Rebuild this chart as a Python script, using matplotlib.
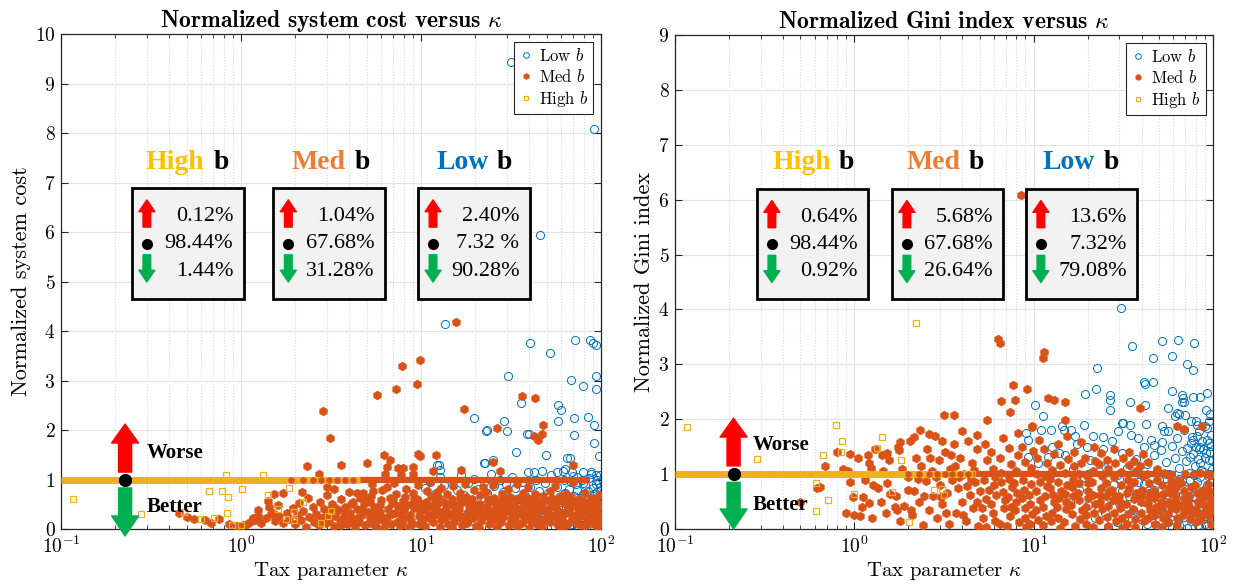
import matplotlib
matplotlib.use('Agg')
import matplotlib.pyplot as plt
from matplotlib.patches import Rectangle
import numpy as np

plt.rcParams['font.family'] = ['cmr10', 'DejaVu Serif']
plt.rcParams['mathtext.fontset'] = 'cm'
plt.rcParams['axes.formatter.use_mathtext'] = True

BLUE = '#0072BD'
ORANGE = '#D95319'
YELLOW = '#EDB120'
BOX_FONT = ['Liberation Serif', 'DejaVu Serif']

# ---------------- data: normalized system cost ----------------
cost_low = [
    (31.7, 9.43), (91, 8.09), (46, 5.95), (13.6, 4.14), (40.6, 3.75), (52, 3.55), (72, 3.81),
    (87, 3.82), (90, 3.75), (94, 3.71), (30.5, 3.10), (94, 3.10), (68, 3.02), (79, 2.89),
    (94, 2.82), (35.9, 2.54), (57.8, 2.5), (60, 2.41), (19.6, 2.25), (29, 2.19), (71, 2.25),
    (85, 2.27), (57.8, 2.18), (23.4, 2.0), (30, 1.98), (40, 1.91), (71, 1.89), (91, 2.11),
    (92, 1.73), (97, 1.47), (33.6, 1.55), (49.8, 1.50), (22.8, 1.34), (25, 1.39), (12.6, 1.30),
    (67.7, 1.44), (12.3, 1.29), (12.8, 1.2), (22.4, 1.33), (39, 1.91), (23, 1.98), (65, 1.43),
    (42.6, 1.15), (47, 1.17), (57, 1.15), (63, 1.21), (69, 1.15), (79, 1.15), (88, 1.15), (94, 1.1),
    (10.5, 0.82), (11.2, 0.95), (12, 0.7), (12.8, 1.05), (13.5, 0.88), (14.2, 0.6), (15, 0.98),
    (15.8, 0.78), (16.6, 1.1), (17.4, 0.68), (18.2, 0.92), (19, 0.55), (19.8, 1.02), (20.7, 0.8),
    (21.6, 0.62), (22.5, 0.96), (23.4, 0.72), (24.4, 1.12), (25.4, 0.86), (26.4, 0.5), (27.5, 0.99),
    (28.6, 0.74), (29.8, 0.9), (31, 0.6), (32.2, 1.06), (33.5, 0.82), (34.8, 0.45), (36.2, 0.96),
    (37.6, 0.7), (39.1, 1.15), (40.6, 0.85), (42.2, 0.55), (43.8, 1.0), (45.5, 0.76), (47.2, 0.4),
    (49, 0.92), (50.9, 0.65), (52.8, 1.1), (54.8, 0.3), (56.9, 0.84), (59, 0.55), (61.2, 1.18),
    (63.5, 0.72), (65.9, 0.2), (68.3, 0.95), (70.8, 0.48), (73.4, 1.05), (76.1, 0.62), (78.9, 0.25),
    (81.8, 0.88), (84.8, 0.4), (87.9, 1.12), (91.1, 0.7), (94.4, 0.15), (97.8, 0.92),
    (40, 0.1), (42, 0.28), (44, 0.62), (46, 0.18), (48, 0.5), (50, 0.05), (52, 0.36), (54, 0.58),
    (56, 0.14), (58, 0.44), (60, 0.26), (62, 0.7), (64, 0.08), (66, 0.4), (68, 0.6), (70, 0.2),
    (72, 0.34), (74, 0.78), (76, 0.04), (78, 0.48), (80, 0.3), (82, 0.64), (84, 0.12), (86, 0.52),
    (88, 0.22), (90, 0.82), (92, 0.38), (94, 0.56), (96, 0.1), (98, 0.3), (99, 0.66), (99.5, 0.02),
    (97, 0.46), (95, 0.74), (93, 0.24), (91, 0.04), (89, 0.6), (87, 0.34), (85, 0.16), (83, 0.42),
    (81, 0.08), (79, 0.7), (77, 0.2), (75, 0.54), (73, 0.14), (71, 0.66), (69, 0.36), (67, 0.02),
    (65, 0.5), (63, 0.32), (61, 0.12), (59, 0.6), (57, 0.28), (55, 0.46), (53, 0.18), (51, 0.72),
    (49, 0.24), (47, 0.64), (45, 0.06), (43, 0.44), (41, 0.34), (38, 0.2), (36, 0.52), (34, 0.08),
    (32, 0.36), (30, 0.16), (28, 0.48), (26, 0.24), (24, 0.02), (22, 0.4), (20, 0.14), (18, 0.3),
    (62, 1.0), (70, 1.08), (78, 1.0), (86, 1.04), (95, 1.0), (99, 1.1),
    (98.6, 0.42), (99.4, 0.84), (97.4, 0.18), (96.2, 0.62), (93.6, 0.9), (92.5, 0.12), (89.8, 0.46),
    (84.2, 0.76), (82.6, 0.26), (79.6, 0.92), (75.5, 0.34), (72.8, 0.9), (68.8, 0.1), (66.2, 0.8),
]
cost_med = [
    (15.6, 4.19), (9.9, 3.41), (7.8, 3.30), (7.3, 2.82), (9.5, 2.92), (5.7, 2.71), (2.87, 2.39),
    (3.12, 1.84), (17.4, 2.43), (36.5, 2.68), (42.8, 2.64), (47.8, 2.10), (46.8, 1.91), (44.6, 1.79),
    (42.7, 1.88), (26.3, 2.04), (27.5, 1.17), (69.5, 1.30), (12.1, 1.50), (9.6, 1.52), (9.9, 1.47),
    (6.2, 1.49), (6.7, 1.39), (6.45, 1.25), (5.0, 1.34), (3.6, 1.29), (2.33, 1.27), (2.7, 1.11),
    (16.7, 1.2), (9.0, 1.25), (7.5, 1.23), (7.9, 1.23), (6.3, 1.11), (9.0, 1.11), (7.7, 1.1),
    (11.7, 1.17), (25, 1.35),
    (2.17, 0.75), (1.71, 0.73), (1.53, 0.71), (1.41, 0.57), (1.43, 0.45), (1.5, 0.32), (1.24, 0.38),
    (1.17, 0.22), (1.03, 0.08), (3.0, 0.85), (3.3, 0.81), (4.4, 0.73), (4.75, 0.73), (5.4, 0.77),
    (0.45, 0.32), (0.5, 0.24), (0.55, 0.21), (0.63, 0.18), (0.68, 0.13), (0.75, 0.2), (0.86, 0.1),
    (0.95, 0.07), (1.08, 0.1), (1.12, 0.14), (1.2, 0.18), (1.25, 0.27), (1.3, 0.12), (1.38, 0.22),
    (1.46, 0.3), (1.55, 0.17), (1.6, 0.48), (1.63, 0.27), (1.72, 0.12), (1.8, 0.33), (1.85, 0.21),
    (1.95, 0.42), (2.0, 0.1), (2.05, 0.28), (2.1, 0.52), (2.15, 0.18), (2.2, 0.36), (2.3, 0.05),
    (2.35, 0.63), (2.4, 0.24), (2.5, 0.45), (2.55, 0.14), (2.6, 0.31), (2.7, 0.08), (2.75, 0.55),
    (2.8, 0.22), (2.9, 0.4), (2.95, 0.12), (3.0, 0.68), (3.05, 0.3), (3.1, 0.18), (3.2, 0.5),
    (3.3, 0.06), (3.35, 0.27), (3.5, 0.38), (3.55, 0.15), (3.6, 0.6), (3.7, 0.22), (3.8, 0.45),
    (3.9, 0.1), (4.0, 0.75), (4.05, 0.32), (4.1, 0.2), (4.2, 0.55), (4.3, 0.04), (4.4, 0.4),
    (4.5, 0.15), (4.6, 0.63), (4.7, 0.28), (4.8, 0.5), (4.9, 0.09), (5.1, 0.35), (5.2, 0.2),
    (3.3, 0.45), (3.6, 0.08), (3.8, 0.3), (4.1, 0.5), (4.4, 0.22), (4.7, 0.4), (4.9, 0.6), (3.1, 0.38),
    (2.9, 0.25), (4.25, 0.12),
    (5.3, 0.12), (5.45, 0.44), (5.25, 0.66), (5.5, 0.28), (5.35, 0.9), (5.6, 0.05),
    (5.9, 0.35), (6.0, 0.58), (5.8, 0.18), (6.1, 0.78), (5.95, 0.48), (6.2, 0.03),
    (6.5, 0.25), (6.7, 0.62), (6.6, 0.4), (6.8, 0.1), (6.45, 0.85), (6.9, 0.52),
    (7.2, 0.33), (7.4, 0.15), (7.3, 0.7), (7.5, 0.47), (7.1, 0.92), (7.6, 0.06),
    (7.9, 0.56), (8.1, 0.22), (8.0, 0.38), (8.3, 0.8), (7.8, 0.12), (8.2, 0.64),
    (8.7, 0.29), (8.9, 0.5), (8.6, 0.04), (9.0, 0.72), (8.8, 0.17), (9.1, 0.42),
    (9.5, 0.6), (9.7, 0.26), (9.6, 0.88), (9.8, 0.11), (9.4, 0.46), (9.9, 0.36),
    (10.3, 0.2), (10.6, 0.54), (10.5, 0.07), (10.8, 0.76), (10.4, 0.4), (10.9, 0.31),
    (11.3, 0.66), (11.6, 0.14), (11.5, 0.45), (11.8, 0.28), (11.2, 0.95), (11.9, 0.58),
    (12.4, 0.37), (12.7, 0.05), (12.6, 0.62), (12.9, 0.19), (12.3, 0.5), (13.0, 0.82),
    (13.6, 0.25), (13.9, 0.7), (13.7, 0.42), (14.1, 0.1), (13.5, 0.55), (14.2, 0.33),
    (14.9, 0.6), (15.2, 0.15), (15.0, 0.86), (15.4, 0.38), (14.8, 0.03), (15.5, 0.48),
    (16.3, 0.28), (16.6, 0.52), (16.5, 0.72), (16.8, 0.08), (16.2, 0.4), (16.9, 0.2),
    (17.8, 0.64), (18.2, 0.34), (18.0, 0.12), (18.4, 0.46), (17.6, 0.9), (18.5, 0.56),
    (19.5, 0.22), (19.8, 0.78), (19.6, 0.4), (20.1, 0.06), (19.3, 0.6), (20.2, 0.3),
    (21.3, 0.5), (21.6, 0.16), (21.4, 0.68), (21.9, 0.36), (21.1, 0.02), (22.0, 0.84),
    (23.2, 0.26), (23.6, 0.58), (23.4, 0.44), (23.9, 0.1), (23.0, 0.74), (24.0, 0.32),
    (25.4, 0.62), (25.8, 0.2), (25.6, 0.38), (26.1, 0.5), (25.2, 0.88), (26.3, 0.04),
    (27.7, 0.3), (28.2, 0.7), (28.0, 0.14), (28.5, 0.46), (27.5, 0.56), (28.7, 0.24),
    (30.3, 0.52), (30.8, 0.08), (30.5, 0.8), (31.1, 0.34), (30.0, 0.42), (31.3, 0.64),
    (33.1, 0.18), (33.7, 0.6), (33.4, 0.28), (34.0, 0.9), (32.9, 0.46), (34.2, 0.05),
    (36.1, 0.4), (36.8, 0.72), (36.4, 0.12), (37.1, 0.55), (35.9, 0.3), (37.4, 0.22),
    (39.5, 0.62), (40.3, 0.36), (39.8, 0.02), (40.7, 0.48), (39.2, 0.84), (41.0, 0.16),
    (43.2, 0.26), (43.9, 0.56), (43.5, 0.44), (44.4, 0.1), (42.9, 0.7), (44.7, 0.34),
    (47.1, 0.5), (48.0, 0.2), (47.5, 0.66), (48.5, 0.38), (46.8, 0.06), (48.9, 0.58),
    (51.4, 0.3), (52.4, 0.76), (51.8, 0.14), (52.9, 0.46), (51.0, 0.24), (53.3, 0.62),
    (56.3, 0.42), (57.4, 0.08), (56.8, 0.55), (58.0, 0.28), (55.8, 0.86), (58.4, 0.18),
    (61.3, 0.6), (62.5, 0.32), (61.8, 0.04), (63.1, 0.5), (60.8, 0.22), (63.6, 0.7),
    (67.2, 0.14), (68.5, 0.44), (67.8, 0.64), (69.2, 0.26), (66.6, 0.36), (69.8, 0.94),
    (73.1, 0.52), (74.6, 0.1), (73.8, 0.3), (75.4, 0.6), (72.5, 0.2), (76.0, 0.42),
    (80.0, 0.34), (81.6, 0.72), (80.8, 0.06), (82.5, 0.48), (79.3, 0.56), (83.2, 0.16),
    (87.0, 0.24), (88.6, 0.4), (87.8, 0.62), (89.5, 0.12), (86.2, 0.5), (90.3, 0.3),
    (94.0, 0.58), (95.5, 0.2), (94.8, 0.04), (96.5, 0.44), (93.2, 0.34), (97.5, 0.68),
    (99, 0.1), (98.5, 0.5), (99.2, 0.28),
    (5.6, 0.32), (6.3, 0.15), (6.9, 0.3), (7.7, 0.28), (8.4, 0.48), (9.2, 0.6), (10.0, 0.16),
    (11.0, 0.48), (12.0, 0.3), (13.2, 0.24), (14.5, 0.5), (15.8, 0.26), (17.2, 0.6), (18.8, 0.24),
    (20.6, 0.46), (22.5, 0.26), (24.6, 0.16), (26.8, 0.42), (29.3, 0.36), (32.0, 0.24), (35.0, 0.62),
    (38.2, 0.46), (41.8, 0.26), (45.6, 0.16), (49.8, 0.36), (54.5, 0.5), (59.5, 0.34), (65.0, 0.52),
    (71.0, 0.24), (77.5, 0.26), (84.5, 0.38), (92.0, 0.5),
    (5.2, 0.55), (6.1, 0.22), (7.0, 0.58), (7.9, 0.4), (8.9, 0.1), (9.9, 0.52), (11.1, 0.22),
    (12.2, 0.74), (13.5, 0.36), (14.9, 0.26), (16.4, 0.62), (18.0, 0.26), (19.8, 0.5), (21.8, 0.26),
    (24.0, 0.54), (26.3, 0.3), (28.9, 0.6), (31.7, 0.18), (34.7, 0.4), (38.0, 0.28), (41.6, 0.56),
    (45.5, 0.46), (49.7, 0.18), (54.3, 0.26), (59.3, 0.66), (64.7, 0.1), (70.6, 0.5), (77.0, 0.46),
    (84.0, 0.1), (91.5, 0.24),
]
cost_high = [
    (0.117, 0.61), (0.28, 0.3), (0.48, 0.34), (0.6, 0.2), (0.71, 0.22), (0.66, 0.77), (0.78, 0.77),
    (0.85, 0.65), (0.83, 1.09), (0.84, 0.32), (0.89, 0.08), (1.0, 0.08), (1.01, 0.81), (1.33, 1.1),
    (1.42, 0.68), (1.6, 0.4), (1.77, 0.2), (1.86, 0.83), (1.98, 0.19), (1.96, 0.34), (2.22, 0.54),
    (2.79, 0.12), (3.06, 0.26), (3.17, 0.36),
]
# kappa range over which High b / Med b runs give exactly 1
cost_high_tie = [0.1, 4.6]
cost_med_tie = [4.6, 87]
cost_med_tie_marks = [1.9, 2.2, 2.5, 2.8, 3.1, 3.4, 3.8, 4.2]

# ---------------- data: normalized Gini index ----------------
gini_low = [
    (30.5, 4.03), (51.7, 3.42), (63.9, 3.45), (78.5, 3.39), (35.4, 3.33), (59.2, 3.15), (46, 3.11),
    (71.6, 3.01), (77.5, 2.9), (22.5, 2.94), (41.2, 2.67), (42, 2.65), (46, 2.68), (58.8, 2.52),
    (93, 2.48), (85, 2.41), (77.5, 2.4), (68.2, 2.38), (69, 2.32), (22.3, 2.55), (19.3, 2.46),
    (10.2, 2.26), (34.5, 2.32), (26.6, 2.35), (42, 2.26), (56, 2.2), (63.3, 2.11), (69.9, 2.08),
    (61, 2.06), (91, 2.16), (96, 2.1), (11.3, 2.06), (19, 1.9), (14.3, 1.87), (14.7, 1.81),
    (16.2, 1.81), (17.1, 1.70), (9.1, 1.75), (31.6, 1.94), (34.5, 1.9), (29.6, 1.78), (42.4, 1.91),
    (51.7, 1.87), (51.7, 1.59), (46.7, 1.53), (38.2, 1.65), (24.2, 1.68), (19.8, 1.5), (12.6, 1.5),
    (13.9, 1.38), (12, 1.32), (10.6, 1.2), (9.3, 1.32), (9.3, 1.62), (77.5, 1.62), (85, 1.5),
    (95, 1.56), (75, 1.96), (80, 1.96), (90, 1.87), (95, 1.96), (26.5, 2.44), (26.5, 2.16),
    (67, 2.45), (67, 2.32), (65, 2.1), (11, 1.8), (12.5, 1.8), (56, 1.78), (81, 1.89), (31, 1.93),
    (15, 1.35), (16.5, 1.1), (17.5, 1.55), (19, 0.95), (20.5, 1.25), (21.5, 1.7), (23, 1.05),
    (24.5, 1.45), (26, 1.2), (27.5, 1.6), (29, 0.98), (31, 1.38), (33, 1.12), (35, 1.72), (37, 1.28),
    (39, 1.0), (41, 1.5), (43, 1.18), (45, 1.62), (47, 1.34), (49, 1.06), (51, 1.44), (53, 1.78),
    (55, 1.22), (57, 1.0), (59, 1.52), (61, 1.3), (63, 1.66), (65, 1.12), (67, 1.42), (69, 1.8),
    (71, 1.24), (73, 1.02), (75, 1.56), (77, 1.36), (79, 1.14), (81, 1.7), (83, 1.46), (85, 1.2),
    (87, 1.6), (89, 1.04), (91, 1.38), (93, 1.84), (95, 1.26), (97, 1.52), (99, 1.1), (98, 1.72),
    (96, 1.4), (94, 0.96), (92, 1.62), (90, 1.3), (88, 1.46), (86, 1.08), (84, 1.78), (82, 1.28),
    (80, 1.5), (78, 0.98), (76, 1.68), (74, 1.32), (72, 1.48),
    (25, 0.3), (27, 0.55), (29, 0.12), (31, 0.7), (33, 0.4), (35, 0.05), (37, 0.62), (39, 0.24),
    (41, 0.82), (43, 0.1), (45, 0.46), (47, 0.72), (49, 0.3), (51, 0.58), (53, 0.02), (55, 0.78),
    (57, 0.36), (59, 0.16), (61, 0.64), (63, 0.42), (65, 0.08), (67, 0.88), (69, 0.22), (71, 0.5),
    (73, 0.74), (75, 0.14), (77, 0.6), (79, 0.32), (81, 0.86), (83, 0.04), (85, 0.42), (87, 0.7),
    (89, 0.2), (91, 0.54), (93, 0.06), (95, 0.76), (97, 0.28), (99, 0.62), (99.5, 0.9), (98, 0.14),
    (96, 0.46), (94, 0.3), (92, 0.8), (90, 0.1), (88, 0.38), (86, 0.64), (84, 0.26), (82, 0.08),
    (80, 0.56), (78, 0.16), (76, 0.44), (74, 0.9), (72, 0.02), (70, 0.34), (68, 0.62), (66, 0.48),
    (64, 0.18), (62, 0.84), (60, 0.4), (58, 0.7), (56, 0.12), (54, 0.5), (52, 0.32), (50, 0.9),
    (48, 0.08), (46, 0.26), (44, 0.66), (42, 0.5), (40, 0.16), (38, 0.86), (36, 0.34), (34, 0.6),
    (32, 0.2), (30, 0.48), (28, 0.82), (26, 0.04), (24, 0.64), (22, 0.2), (20, 0.44), (18, 0.72),
    (16, 0.5), (97.5, 0.4), (98.8, 0.2), (99.3, 0.75), (96.8, 1.0), (98.2, 1.25), (99.6, 0.05),
    (95.6, 0.6), (97.2, 0.86), (20, 1.0), (30, 0.92), (45, 0.94), (55, 1.0), (65, 0.92), (85, 0.94),
]
gini_med = [
    (8.5, 6.08), (6.3, 3.47), (6.45, 3.39), (11.4, 3.23), (11.3, 3.11), (7.7, 2.62), (9.2, 2.55),
    (6.6, 2.34), (7.9, 2.35), (12, 2.38), (13, 2.35), (14.9, 2.31), (7.4, 2.13), (3.15, 2.07),
    (3.58, 2.07), (39, 2.2), (87, 1.88), (5.5, 1.99), (14.9, 1.98), (9.8, 1.88), (63, 1.87),
    (69, 1.82), (2.33, 1.8), (4.0, 1.78), (4.8, 1.72), (3.07, 1.61), (2.6, 1.73), (2.14, 1.68),
    (1.8, 1.58), (0.94, 1.36), (1.19, 1.35), (1.42, 1.35), (1.52, 1.38), (1.77, 1.44), (0.69, 1.14),
    (0.86, 1.10), (0.92, 1.05), (0.64, 0.76), (0.5, 0.49), (0.98, 0.59), (1.0, 0.26), (1.08, 0.23),
    (1.12, 0.58), (1.21, 0.47), (1.27, 0.81), (1.24, 1.12), (1.52, 0.84), (1.58, 0.64), (1.68, 0.41),
    (2.0, 0.72), (2.06, 0.35), (1.72, 0.35),
    (1.05, 1.3), (1.1, 0.4), (1.15, 0.9), (1.2, 1.2), (1.25, 0.2), (1.3, 1.45), (1.35, 0.75),
    (1.4, 0.5), (1.45, 1.05), (1.5, 0.3), (1.55, 1.25), (1.7, 0.6), (1.75, 1.5), (1.8, 0.15),
    (1.85, 1.1), (1.9, 0.42), (2.0, 0.95), (2.05, 1.6), (2.1, 0.25), (2.15, 0.7), (2.2, 1.3),
    (2.3, 0.5), (2.35, 1.15), (2.4, 0.08), (2.5, 0.88), (2.55, 1.45), (2.6, 0.35), (2.7, 1.05),
    (2.75, 0.6), (2.8, 1.7), (2.9, 0.2), (2.95, 1.25), (3.0, 0.8), (3.1, 0.45), (3.2, 1.4),
    (3.3, 0.65), (3.35, 0.1), (3.4, 1.1), (3.5, 0.9), (3.6, 1.55), (3.7, 0.3), (3.8, 0.75),
    (3.9, 1.3), (4.0, 0.5), (4.1, 1.0), (4.2, 0.15), (4.3, 1.6), (4.4, 0.62), (4.5, 1.2),
    (4.6, 0.38), (4.7, 0.85), (4.8, 1.45), (4.9, 0.05), (5.0, 0.7), (0.62, 0.75), (0.8, 1.4),
    (0.85, 1.02), (0.9, 0.3), (0.95, 0.85),
    (2.25, 0.92), (2.65, 1.3), (3.05, 0.58), (3.45, 1.35), (3.85, 0.95), (4.25, 0.78), (4.65, 1.08),
    (2.45, 0.6), (2.85, 0.95), (3.25, 0.3), (3.65, 1.15), (4.05, 0.25), (4.45, 0.92), (4.85, 0.5),
    (5.2, 0.2), (5.4, 0.55), (5.3, 0.9), (5.5, 1.25), (5.15, 0.38), (5.6, 0.72), (5.35, 1.55), (5.45, 0.04),
    (5.8, 0.45), (6.0, 0.8), (5.9, 1.1), (6.1, 0.15), (5.75, 1.4), (6.2, 0.62), (5.95, 0.3), (6.05, 0.95),
    (6.5, 0.1), (6.7, 0.68), (6.6, 1.02), (6.8, 0.38), (6.45, 1.3), (6.9, 0.52), (6.55, 0.85), (6.75, 1.65),
    (7.2, 0.58), (7.4, 0.24), (7.3, 0.92), (7.5, 1.18), (7.1, 0.06), (7.6, 0.76), (7.25, 1.48), (7.45, 0.4),
    (7.9, 0.34), (8.1, 0.66), (8.0, 1.06), (8.3, 0.12), (7.8, 0.84), (8.2, 1.35), (7.95, 0.5), (8.15, 1.75),
    (8.7, 0.9), (8.9, 0.2), (8.6, 0.56), (9.0, 1.22), (8.8, 0.72), (9.1, 0.04), (8.65, 1.5), (8.95, 0.38),
    (9.5, 0.46), (9.7, 0.82), (9.6, 1.12), (9.8, 0.28), (9.4, 0.62), (9.9, 1.42), (9.55, 0.1), (9.75, 1.85),
    (10.3, 0.7), (10.6, 0.16), (10.5, 1.0), (10.8, 0.52), (10.4, 1.3), (10.9, 0.86), (10.35, 0.34), (10.7, 1.62),
    (11.3, 0.4), (11.6, 0.96), (11.5, 0.6), (11.8, 1.2), (11.2, 0.08), (11.9, 0.78), (11.4, 1.45), (11.7, 0.24),
    (12.4, 0.74), (12.7, 0.3), (12.6, 1.08), (12.9, 0.5), (12.3, 0.92), (13.0, 1.36), (12.5, 0.14), (12.8, 0.62),
    (13.6, 0.2), (13.9, 0.56), (13.7, 0.86), (14.1, 1.16), (13.5, 0.4), (14.2, 0.7), (13.65, 1.55), (14.0, 0.02),
    (14.9, 0.64), (15.2, 0.36), (15.0, 1.02), (15.4, 0.8), (14.8, 0.12), (15.5, 1.28), (15.05, 0.5), (15.3, 1.7),
    (16.3, 0.28), (16.6, 0.9), (16.5, 0.6), (16.8, 1.14), (16.2, 0.44), (16.9, 0.06), (16.4, 0.76), (16.7, 1.4),
    (17.8, 0.52), (18.2, 0.18), (18.0, 0.84), (18.4, 1.2), (17.6, 0.66), (18.5, 0.34), (17.9, 1.0), (18.3, 1.58),
    (19.5, 0.4), (19.8, 0.96), (19.6, 0.1), (20.1, 0.7), (19.3, 1.3), (20.2, 0.56), (19.7, 0.26), (20.0, 0.84),
    (21.3, 0.62), (21.6, 0.3), (21.4, 1.06), (21.9, 0.46), (21.1, 0.86), (22.0, 1.24), (21.5, 0.04), (21.8, 1.5),
    (23.2, 0.16), (23.6, 0.74), (23.4, 0.5), (23.9, 0.96), (23.0, 1.18), (24.0, 0.36), (23.3, 0.62), (23.7, 1.38),
    (25.4, 0.84), (25.8, 0.42), (25.6, 0.22), (26.1, 1.1), (25.2, 0.6), (26.3, 0.7), (25.5, 1.26), (26.0, 0.06),
    (27.7, 0.52), (28.2, 0.94), (28.0, 0.3), (28.5, 1.2), (27.5, 0.72), (28.7, 0.14), (27.9, 1.46), (28.4, 0.6),
    (30.3, 0.38), (30.8, 0.8), (30.5, 1.04), (31.1, 0.2), (30.0, 0.6), (31.3, 1.3), (30.4, 0.5), (30.9, 0.02),
    (33.1, 0.66), (33.7, 0.28), (33.4, 0.9), (34.0, 1.16), (32.9, 0.46), (34.2, 0.74), (33.3, 0.1), (33.8, 1.4),
    (36.1, 0.54), (36.8, 0.18), (36.4, 0.86), (37.1, 1.06), (35.9, 0.36), (37.4, 0.66), (36.3, 1.24), (36.9, 0.04),
    (39.5, 0.3), (40.3, 0.72), (39.8, 0.5), (40.7, 0.96), (39.2, 1.14), (41.0, 0.14), (39.9, 0.6), (40.5, 1.36),
    (43.2, 0.46), (43.9, 0.84), (43.5, 0.2), (44.4, 0.66), (42.9, 1.0), (44.7, 0.34), (43.6, 1.22), (44.1, 0.56),
    (47.1, 0.7), (48.0, 0.4), (47.5, 0.1), (48.5, 0.9), (46.8, 0.56), (48.9, 1.1), (47.3, 0.26), (48.2, 0.62),
    (51.4, 0.5), (52.4, 0.2), (51.8, 0.8), (52.9, 0.64), (51.0, 0.34), (53.3, 1.02), (52.1, 0.04), (52.6, 0.44),
    (56.3, 0.28), (57.4, 0.66), (56.8, 0.5), (58.0, 0.86), (55.8, 0.12), (58.4, 0.4), (57.1, 0.74), (57.7, 0.96),
    (61.3, 0.56), (62.5, 0.36), (61.8, 0.76), (63.1, 0.2), (60.8, 0.64), (63.6, 0.9), (62.2, 0.48), (62.8, 0.08),
    (67.2, 0.44), (68.5, 0.7), (67.8, 0.26), (69.2, 0.56), (66.6, 0.84), (69.8, 0.32),
    (73.1, 0.6), (74.6, 0.18), (73.8, 0.4), (75.4, 0.76), (72.5, 0.5), (76.0, 0.3),
    (80.0, 0.36), (81.6, 0.66), (80.8, 0.12), (82.5, 0.5), (79.3, 0.8), (83.2, 0.24),
    (87.0, 0.54), (88.6, 0.3), (87.8, 0.72), (89.5, 0.44), (86.2, 0.16), (90.3, 0.62),
    (94.0, 0.4), (95.5, 0.7), (94.8, 0.24), (96.5, 0.56), (93.2, 0.82), (97.5, 0.1), (99.0, 0.5),
    (98.5, 0.34), (70, 1.0), (78, 1.0), (85, 1.02), (92, 1.0), (97, 0.98),
]
gini_high = [
    (0.116, 1.85), (0.286, 1.27), (0.61, 0.84), (0.61, 0.32), (0.67, 1.34), (0.71, 0.52), (0.79, 1.90),
    (0.85, 1.61), (0.84, 1.41), (1.0, 0.64), (1.33, 1.47), (1.42, 1.67), (1.63, 0.67), (1.82, 1.25),
    (2.02, 0.12), (2.21, 3.76), (2.78, 0.71), (3.07, 0.73), (3.17, 0.62), (3.55, 1.0), (4.0, 1.0),
    (4.5, 1.0),
]
gini_high_tie = [0.1, 4.6]
gini_med_tie = [4.6, 62]
gini_med_tie_marks = [2.0, 2.3, 2.6, 2.9, 3.2, 3.5, 3.9, 4.3]

# share of runs that got worse / equal / better, per b group
cost_pct = {'High': ['0.12%', '98.44%', '1.44%'],
            'Med': ['1.04%', '67.68%', '31.28%'],
            'Low': ['2.40%', '7.32 %', '90.28%']}
gini_pct = {'High': ['0.64%', '98.44%', '0.92%'],
            'Med': ['5.68%', '67.68%', '26.64%'],
            'Low': ['13.6%', '7.32%', '79.08%']}

GROUP_COLOR = {'High': '#FFC000', 'Med': '#ED7D31', 'Low': '#0070C0'}


def draw_panel(ax, low, med, high, high_tie, med_tie, med_marks, pct, ymax,
               box_x, name_pos, arrow_k, worse, better, text_k, title, ylabel):
    lk, lv = np.array(low).T
    mk, mv = np.array(med).T
    hk, hv = np.array(high).T

    ax.plot(lk, lv, 'o', ls='none', ms=5.8, mfc='none', mec=BLUE, mew=0.7, label='Low $b$', zorder=2)
    ax.plot(mk, mv, 'h', ls='none', ms=6.2, color=ORANGE, mec=ORANGE, mew=0.5, label='Med $b$', zorder=3)
    ax.plot(med_tie, [1, 1], '-', color=ORANGE, lw=4.5, zorder=3, solid_capstyle='butt')
    ax.plot(hk, hv, 's', ls='none', ms=5, mfc='none', mec=YELLOW, mew=0.9, label='High $b$', zorder=4)
    ax.plot(high_tie, [1, 1], '-', color=YELLOW, lw=5, zorder=4, solid_capstyle='butt')
    ax.plot(med_marks, np.ones(len(med_marks)), 'h', ls='none', ms=4, color=ORANGE, zorder=5)

    ax.set_xscale('log')
    ax.set_xlim(0.1, 100)
    ax.set_ylim(0, ymax)
    ax.set_yticks(np.arange(0, ymax + 1))
    ax.tick_params(which='both', direction='in', top=True, right=True, labelsize=14,
                   color='#262626', pad=4)
    ax.tick_params(axis='x', which='major', pad=5)
    ax.tick_params(which='major', length=5)
    ax.tick_params(which='minor', length=3)
    for s in ax.spines.values():
        s.set_color('#262626')
        s.set_linewidth(0.9)
    ax.set_axisbelow(True)
    ax.grid(True, which='major', color='#e3e3e3', lw=0.8)
    ax.grid(True, which='minor', axis='x', color='#d8d8d8', ls=':', lw=0.8)
    ax.set_title(title, fontsize=17, fontfamily='cmb10', pad=5)
    ax.set_ylabel(ylabel, fontsize=16, labelpad=3)
    ax.set_xlabel(r'Tax parameter $\kappa$', fontsize=15, labelpad=2)

    leg = ax.legend(loc='upper right', fontsize=12, handlelength=0.8, handletextpad=0.4,
                    borderpad=0.3, labelspacing=0.25, borderaxespad=0.45, fancybox=False,
                    framealpha=1, edgecolor='#262626', markerscale=0.7)
    leg.get_frame().set_linewidth(0.8)

    # Worse / Better guide
    ax.annotate('', xy=(arrow_k, worse[1]), xytext=(arrow_k, worse[0]), annotation_clip=False,
                arrowprops=dict(arrowstyle='simple,head_width=0.97,head_length=0.68,tail_width=0.47',
                                color='#FF0000', shrinkA=0, shrinkB=0, mutation_scale=20, clip_on=False),
                zorder=7)
    ax.annotate('', xy=(arrow_k, better[1]), xytext=(arrow_k, better[0]), annotation_clip=False,
                arrowprops=dict(arrowstyle='simple,head_width=0.97,head_length=0.72,tail_width=0.47',
                                color='#00B050', shrinkA=0, shrinkB=0, mutation_scale=20, clip_on=False),
                zorder=7)
    ax.plot([arrow_k], [1], 'o', color='k', ms=8.5, zorder=8)
    ax.text(text_k, 1.53, 'Worse', fontsize=15, fontweight='bold', family=BOX_FONT,
            va='center', ha='left', zorder=8)
    ax.text(text_k, 0.44, 'Better', fontsize=15, fontweight='bold', family=BOX_FONT,
            va='center', ha='left', zorder=8)

    # summary boxes
    top = 0.689
    height = 0.224
    width = 0.207
    rows = [0.0586, 0.113, 0.168]
    for i, grp in enumerate(['High', 'Med', 'Low']):
        x0 = box_x[i]
        ax.add_patch(Rectangle((x0, top - height), width, height, transform=ax.transAxes,
                               facecolor='#f2f2f2', edgecolor='black', lw=2, zorder=9))
        nx_end, nx_b = name_pos[i]
        ax.text(nx_end, 0.741, grp, transform=ax.transAxes, fontsize=20, fontweight='bold',
                family=BOX_FONT, color=GROUP_COLOR[grp], ha='right', va='center', zorder=10)
        ax.text(nx_b, 0.741, 'b', transform=ax.transAxes, fontsize=20, fontweight='bold',
                family=BOX_FONT, color='black', ha='left', va='center', zorder=10)
        ax_x = x0 + 0.028
        ax.annotate('', xy=(ax_x, top - 0.024), xytext=(ax_x, top - 0.079), xycoords='axes fraction',
                    arrowprops=dict(arrowstyle='simple,head_width=1.15,head_length=0.85,tail_width=0.55',
                                    color='#FF0000', shrinkA=0, shrinkB=0, mutation_scale=10), zorder=10)
        ax.plot([ax_x], [top - rows[1]], 'o', color='k', ms=7, transform=ax.transAxes, zorder=10,
                clip_on=False)
        ax.annotate('', xy=(ax_x, top - 0.19), xytext=(ax_x, top - 0.135), xycoords='axes fraction',
                    arrowprops=dict(arrowstyle='simple,head_width=1.15,head_length=0.85,tail_width=0.55',
                                    color='#00B050', shrinkA=0, shrinkB=0, mutation_scale=10), zorder=10)
        for j in range(3):
            ax.text(x0 + 0.188, top - rows[j], pct[grp][j], transform=ax.transAxes, fontsize=16,
                    family=BOX_FONT, ha='right', va='center', zorder=10)


def main():
    fig = plt.figure(figsize=(12.35, 5.88), dpi=100)
    ax1 = fig.add_axes([0.0494, 0.1003, 0.4372, 0.8418])
    ax2 = fig.add_axes([0.5466, 0.1003, 0.4356, 0.8401])

    draw_panel(ax1, cost_low, cost_med, cost_high, cost_high_tie, cost_med_tie, cost_med_tie_marks,
               cost_pct, 10, [0.131, 0.393, 0.661],
               [(0.265, 0.283), (0.526, 0.543), (0.793, 0.806)],
               0.227, (1.15, 2.12), (0.83, -0.14), 0.30,
               r'Normalized system cost versus $\kappa$', 'Normalized system cost')
    draw_panel(ax2, gini_low, gini_med, gini_high, gini_high_tie, gini_med_tie, gini_med_tie_marks,
               gini_pct, 9, [0.152, 0.403, 0.652],
               [(0.290, 0.305), (0.530, 0.546), (0.781, 0.796)],
               0.212, (1.15, 2.02), (0.85, 0.0), 0.272,
               r'Normalized Gini index versus $\kappa$', 'Normalized Gini index')

    fig.savefig('out.png', dpi=100)


if __name__ == '__main__':
    main()
